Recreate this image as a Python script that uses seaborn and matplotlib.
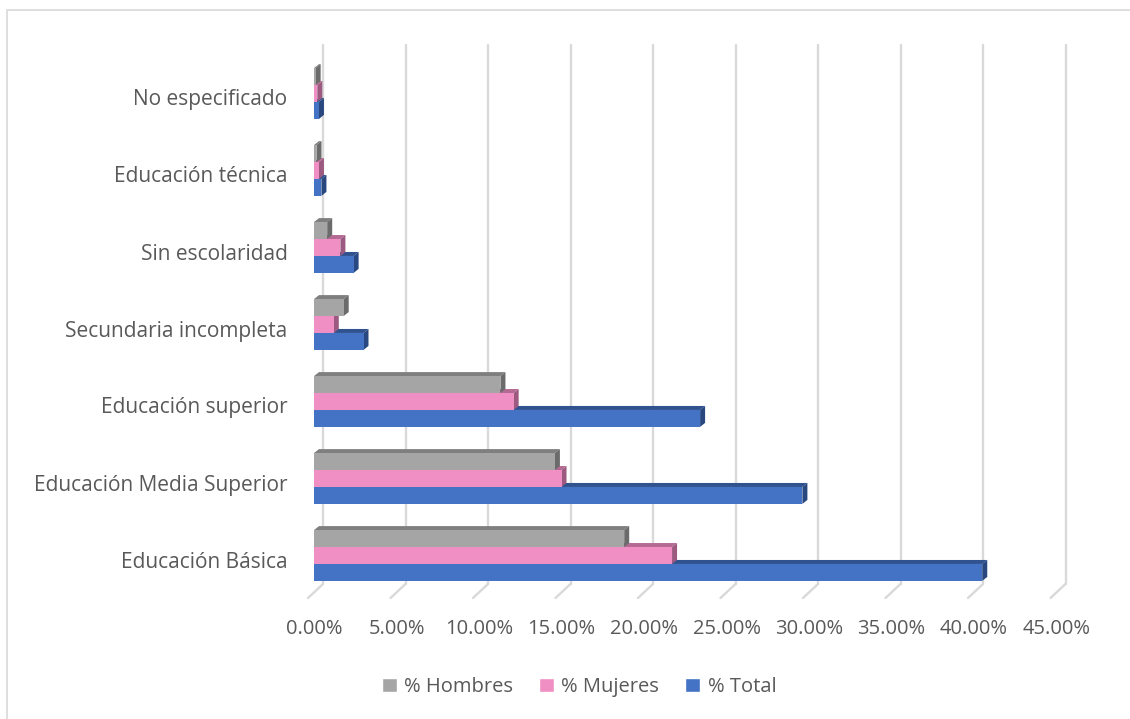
import matplotlib

matplotlib.use("Agg")

import matplotlib.pyplot as plt
import pandas as pd
import seaborn as sns
from matplotlib.patches import Polygon, Rectangle
from matplotlib.lines import Line2D
from matplotlib.ticker import FuncFormatter
from matplotlib.transforms import ScaledTranslation

categories = [
    "No especificado",
    "Educación técnica",
    "Sin escolaridad",
    "Secundaria incompleta",
    "Educación superior",
    "Educación Media Superior",
    "Educación Básica",
]
hombres = [0.10, 0.15, 0.8, 1.8, 11.3, 14.6, 18.8]
mujeres = [0.20, 0.30, 1.6, 1.2, 12.1, 15.0, 21.7]
total = [0.30, 0.45, 2.4, 3.0, 23.4, 29.6, 40.5]
series = ["% Hombres", "% Mujeres", "% Total"]
x_ticks = [0, 5, 10, 15, 20, 25, 30, 35, 40, 45]

front_colors = ["#A5A5A5", "#F08FC3", "#4472C4"]
top_colors = ["#7F7F7F", "#B46A93", "#30528F"]
side_colors = ["#6B6B6B", "#9C5A80", "#2A4880"]
TEXT = "#595959"
GRID = "#D9D9D9"

rows = []
for name, vals in zip(series, [hombres, mujeres, total]):
    for cat, v in zip(categories, vals):
        rows.append({"Nivel": cat, "Serie": name, "Valor": v})
df = pd.DataFrame(rows)

sns.set_style("white")
plt.rcParams["font.family"] = ["Open Sans", "DejaVu Sans"]

DPI = 100
fig = plt.figure(figsize=(11.3, 7.19), dpi=DPI)
W, H = 1130, 719
ax = fig.add_axes([314 / W, 1 - 594 / H, (16.5 * 45) / W, 539 / H])

sns.barplot(
    data=df, y="Nivel", x="Valor", hue="Serie", order=categories,
    hue_order=series, palette=front_colors, orient="h", width=0.66,
    ax=ax, saturation=1, linewidth=0,
)
ax.legend_.remove()
ax.set_xlim(0, 45)
ax.set_ylim(6.5, -0.5)
ax.set_xlabel("")
ax.set_ylabel("")
for s in ax.spines.values():
    s.set_visible(False)
ax.set_xticks(x_ticks)
ax.xaxis.set_major_formatter(FuncFormatter(lambda v, p: f"{v:.2f}%"))
ax.tick_params(axis="both", length=0, labelcolor=TEXT)
ax.tick_params(axis="x", pad=18, labelsize=14.5)
ax.tick_params(axis="y", pad=19, labelsize=15)
# labels sit a little lower than the bar groups, as in the 3D view
shift = ScaledTranslation(0, -4 / DPI, fig.dpi_scale_trans)
for lab in ax.get_yticklabels():
    lab.set_transform(lab.get_transform() + shift)

fig.canvas.draw()
to_disp = ax.transData.transform

# back wall gridlines and floor ticks (display pixels)
bottom_px = ax.transAxes.transform((0, 0))[1]
top_px = ax.transAxes.transform((0, 1))[1]
for t in x_ticks:
    xp = to_disp((t, 0))[0]
    fig.add_artist(Line2D([xp + 9, xp + 9], [bottom_px + 10, top_px + 10],
                          transform=None, color=GRID, lw=1.7, zorder=0.5))
    fig.add_artist(Line2D([xp - 6, xp + 9], [bottom_px - 4, bottom_px + 10],
                          transform=None, color=GRID, lw=1.7, zorder=0.5))

# 3D faces for each bar
d, dv = 5, 4
n = len(categories)
for i, patch in enumerate(list(ax.patches)):
    k = i // n
    if k >= len(series):
        continue
    x0, y0 = patch.get_x(), patch.get_y()
    w, h = patch.get_width(), patch.get_height()
    (X0, Y0), (X1, Y1) = to_disp((x0, y0)), to_disp((x0 + w, y0 + h))
    ytop, ybot = max(Y0, Y1), min(Y0, Y1)
    z = 10 - k * 2
    patch.set_visible(False)
    fig.add_artist(Polygon([(X0, ytop), (X0 + d, ytop + dv), (X1 + d, ytop + dv), (X1, ytop)],
                           closed=True, transform=None, facecolor=top_colors[k],
                           edgecolor="none", zorder=z))
    fig.add_artist(Polygon([(X1, ybot), (X1, ytop), (X1 + d, ytop + dv), (X1 + d, ybot + dv)],
                           closed=True, transform=None, facecolor=side_colors[k],
                           edgecolor="none", zorder=z))
    fig.add_artist(Rectangle((X0, ybot), X1 - X0, ytop - ybot, transform=None,
                             facecolor=front_colors[k], edgecolor="none", zorder=z + 1))

handles = [Rectangle((0, 0), 1, 1, facecolor=c) for c in front_colors]
fig.legend(handles, series, loc="center", bbox_to_anchor=(579 / W, 1 - 687 / H),
           ncol=3, frameon=False, fontsize=14.5, labelcolor=TEXT,
           handlelength=0.75, handleheight=0.75, handletextpad=0.35, columnspacing=1.3)

# chart border
fig.add_artist(Rectangle((7 / W, -0.05), 1.2, 1 - 10 / H + 0.05, transform=fig.transFigure,
                         fill=False, edgecolor="#D9D9D9", lw=1.2))

fig.savefig("out.png", dpi=DPI)
